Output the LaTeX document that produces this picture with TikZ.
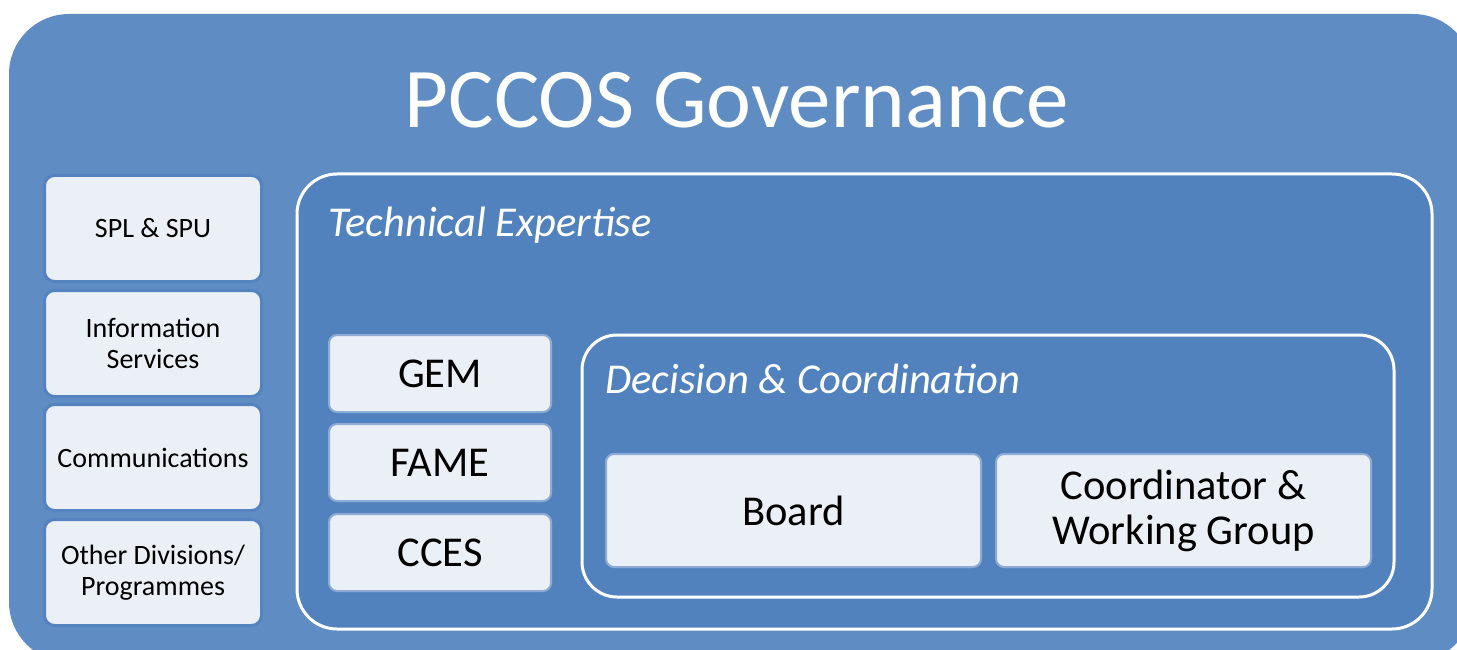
\documentclass[tikz,border=0pt]{standalone}
\usepackage{fontspec}
\setmainfont{Carlito}

\definecolor{govblue}{HTML}{5F8DC3}
\definecolor{techblue}{HTML}{5282BE}
\definecolor{boxfill}{HTML}{EBF0F7}
\definecolor{sideedge}{HTML}{5483BF}
\definecolor{unitedge}{HTML}{8DABD5}

\tikzset{
  sidebox/.style={draw=sideedge, line width=3pt, fill=boxfill, rounded corners=10pt,
    minimum width=217pt, minimum height=106pt, align=center,
    font=\fontsize{28}{31}\selectfont},
  unitbox/.style={draw=unitedge, line width=2pt, fill=boxfill, rounded corners=8pt,
    minimum width=222pt, minimum height=77pt, align=center,
    font=\fontsize{42.5}{45}\selectfont},
  groupframe/.style={draw=white, line width=3pt, fill=techblue},
  grouplabel/.style={anchor=base west, text=white, inner sep=0pt,
    font=\fontsize{42.5}{45}\selectfont\itshape}
}

\begin{document}
\begin{tikzpicture}[x=1pt,y=-1pt]
% frame
  \useasboundingbox (0,0) rectangle (1457,650);
  \clip (0,0) rectangle (1457,650);
  \fill[govblue, rounded corners=60pt] (9,14) rectangle (1473,662);

% title
  \node[text=white, font=\fontsize{85}{90}\selectfont] (title) at (737,100) {PCCOS Governance};

% side boxes
  \foreach \y/\name/\txt in {228.5/spl/{SPL \& SPU},
                             343.5/info/{Information\\Services},
                             457.5/comm/{Communications},
                             572.5/other/{Other Divisions/\\Programmes}}
    \node[sidebox] (\name) at (153,\y) {\txt};

% technical expertise
  \draw[groupframe, rounded corners=40pt] (297,174) rectangle (1432,629);
  \node[grouplabel] (techlabel) at (328,236) {Technical Expertise};
  \foreach \y/\name in {373.5/GEM, 462.5/FAME, 552.5/CCES}
    \node[unitbox] (\name) at (440,\y) {\name};

% decision & coordination
  \draw[groupframe, rounded corners=35pt] (582,335) rectangle (1394,597);
  \node[grouplabel] (declabel) at (605,393) {Decision \& Coordination};
  \node[unitbox, minimum width=375pt, minimum height=113pt] (board) at (793.5,510.5) {Board};
  \node[unitbox, minimum width=375pt, minimum height=113pt] (coord) at (1183.5,510.5) {Coordinator \&\\Working Group};
\end{tikzpicture}
\end{document}
